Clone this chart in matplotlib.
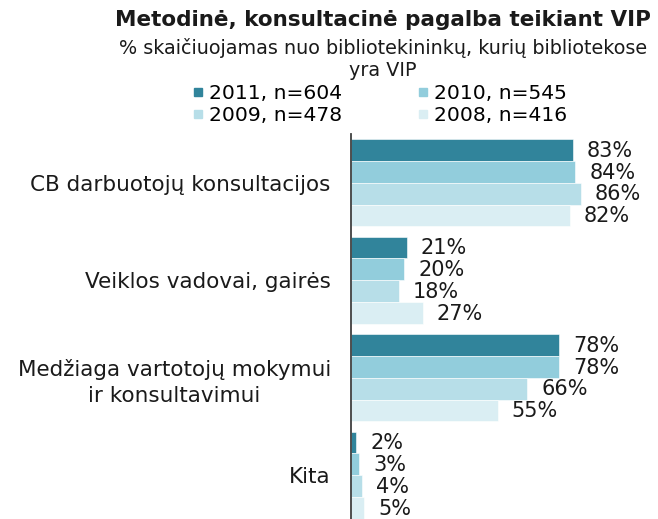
import matplotlib

matplotlib.use("Agg")

import matplotlib.pyplot as plt
from matplotlib.lines import Line2D
import numpy as np

categories = [
    "CB darbuotojų konsultacijos",
    "Veiklos vadovai, gairės",
    "Medžiaga vartotojų mokymui\nir konsultavimui",
    "Kita",
]
series_labels = ["2011, n=604", "2010, n=545", "2009, n=478", "2008, n=416"]
values_2011 = [83, 21, 78, 2]
values_2010 = [84, 20, 78, 3]
values_2009 = [86, 18, 66, 4]
values_2008 = [82, 27, 55, 5]
series = [values_2011, values_2010, values_2009, values_2008]
colors = ["#31849B", "#92CDDC", "#B7DEE8", "#DAEEF3"]

W, H = 658, 519
fig = plt.figure(figsize=(W / 100, H / 100), dpi=100)
# axes placed in pixel terms: x 351..618, y 134..524 (bottom slightly cropped)
ax = fig.add_axes([351 / W, (H - 524) / H, 267 / W, 390 / H])

y = np.arange(len(categories))
h = 0.224
for i, (vals, col) in enumerate(zip(series, colors)):
    pos = y + (i - 1.5) * h
    bars = ax.barh(pos, vals, height=h, color=col, edgecolor="white", linewidth=0.4)
    for b, v in zip(bars, vals):
        ax.annotate(f"{v}%", (b.get_width(), b.get_y() + b.get_height() / 2),
                    xytext=(10, -0.5), textcoords="offset points",
                    ha="left", va="center", fontsize=15, color="#1a1a1a")

ax.set_xlim(0, 100)
ax.set_ylim(3.5, -0.5)
ax.set_xticks([])
ax.set_yticks(y, categories, fontsize=15.5, color="#1a1a1a", linespacing=1.35)
ax.tick_params(axis="y", length=0, pad=14.5)
for s in ["top", "right", "bottom"]:
    ax.spines[s].set_visible(False)
ax.spines["left"].set_color("#404040")
ax.spines["left"].set_linewidth(1.3)
for t in ax.get_yticklabels():
    t.set_horizontalalignment("right")
    if "\n" in t.get_text():
        t.set_multialignment("center")

cx = 383 / W
fig.text(cx, 1 - 20 / H, "Metodinė, konsultacinė pagalba teikiant VIP",
         ha="center", va="center", fontsize=15.5, fontweight="bold", color="#1a1a1a")
fig.text(cx, 1 - 48 / H, "% skaičiuojamas nuo bibliotekininkų, kurių bibliotekose",
         ha="center", va="center", fontsize=13.8, color="#1a1a1a")
fig.text(cx, 1 - 71 / H, "yra VIP", ha="center", va="center", fontsize=13.8,
         color="#1a1a1a")

# legend fills row-wise in the reference: reorder for matplotlib's column-wise fill
order = [0, 2, 1, 3]
handles = [Line2D([], [], linestyle="none", marker="s", markersize=6,
                  markerfacecolor=colors[k], markeredgecolor=colors[k]) for k in order]
labels = [series_labels[k] for k in order]
fig.legend(handles, labels, ncol=2, loc="center", bbox_to_anchor=(380 / W, 1 - 104.5 / H),
           frameon=False, fontsize=14.6, handlelength=0.5, handletextpad=0.3,
           columnspacing=3.75, labelspacing=0.15, borderpad=0)

fig.savefig("out.png", dpi=100)
